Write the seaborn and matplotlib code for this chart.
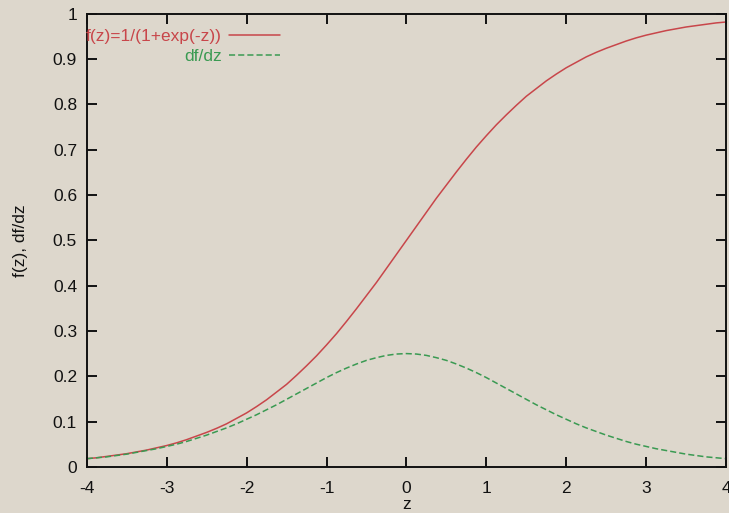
import numpy as np
import pandas as pd
import matplotlib
matplotlib.use("Agg")
import matplotlib.pyplot as plt
import seaborn as sns

# Sample points along z (step 0.125)
z_values = [-4.0, -3.875, -3.75, -3.625, -3.5, -3.375, -3.25, -3.125, -3.0,
            -2.875, -2.75, -2.625, -2.5, -2.375, -2.25, -2.125, -2.0,
            -1.875, -1.75, -1.625, -1.5, -1.375, -1.25, -1.125, -1.0,
            -0.875, -0.75, -0.625, -0.5, -0.375, -0.25, -0.125, 0.0,
            0.125, 0.25, 0.375, 0.5, 0.625, 0.75, 0.875, 1.0,
            1.125, 1.25, 1.375, 1.5, 1.625, 1.75, 1.875, 2.0,
            2.125, 2.25, 2.375, 2.5, 2.625, 2.75, 2.875, 3.0,
            3.125, 3.25, 3.375, 3.5, 3.625, 3.75, 3.875, 4.0]

# Logistic function values
f_values = [0.018, 0.020, 0.023, 0.026, 0.029, 0.033, 0.037, 0.042, 0.047,
            0.053, 0.060, 0.068, 0.076, 0.085, 0.095, 0.107, 0.119,
            0.133, 0.148, 0.165, 0.182, 0.202, 0.223, 0.245, 0.269,
            0.294, 0.321, 0.349, 0.378, 0.407, 0.438, 0.469, 0.500,
            0.531, 0.562, 0.593, 0.622, 0.651, 0.679, 0.706, 0.731,
            0.755, 0.777, 0.798, 0.818, 0.835, 0.852, 0.867, 0.881,
            0.893, 0.905, 0.915, 0.924, 0.932, 0.940, 0.947, 0.953,
            0.958, 0.963, 0.967, 0.971, 0.974, 0.977, 0.980, 0.982]

# Its derivative
df_values = [0.018, 0.020, 0.022, 0.025, 0.028, 0.032, 0.036, 0.040, 0.045,
             0.050, 0.056, 0.063, 0.070, 0.078, 0.086, 0.095, 0.105,
             0.115, 0.126, 0.137, 0.149, 0.161, 0.173, 0.185, 0.197,
             0.208, 0.218, 0.227, 0.235, 0.241, 0.246, 0.249, 0.250,
             0.249, 0.246, 0.241, 0.235, 0.227, 0.218, 0.208, 0.197,
             0.185, 0.173, 0.161, 0.149, 0.137, 0.126, 0.115, 0.105,
             0.095, 0.086, 0.078, 0.070, 0.063, 0.056, 0.050, 0.045,
             0.040, 0.036, 0.032, 0.028, 0.025, 0.022, 0.020, 0.018]

series_names = ["f(z)=1/(1+exp(-z))", "df/dz"]
x_ticks = [-4, -3, -2, -1, 0, 1, 2, 3, 4]
y_ticks = [0, 0.1, 0.2, 0.3, 0.4, 0.5, 0.6, 0.7, 0.8, 0.9, 1]
y_tick_labels = ["0", "0.1", "0.2", "0.3", "0.4", "0.5", "0.6", "0.7", "0.8", "0.9", "1"]

df = pd.DataFrame({
    "z": z_values * 2,
    "value": f_values + df_values,
    "series": [series_names[0]] * len(z_values) + [series_names[1]] * len(z_values),
})

sns.set_theme(style="ticks")
plt.rcParams["font.family"] = ["Liberation Sans", "DejaVu Sans"]

paper = "#ddd7cc"
red = "#c8464a"
green = "#3a9a52"
ink = "#111111"
fs = 12.5

fig = plt.figure(figsize=(7.29, 5.13), dpi=100, facecolor=paper)
ax = fig.add_axes([0.119, 0.090, 0.877, 0.883])
ax.set_facecolor(paper)

sns.lineplot(data=df, x="z", y="value", hue="series", style="series",
             palette={series_names[0]: red, series_names[1]: green},
             dashes={series_names[0]: "", series_names[1]: (4, 2)},
             linewidth=1.1, ax=ax, legend=True)

ax.set_xlim(-4, 4)
ax.set_ylim(0, 1)
ax.set_xticks(x_ticks)
ax.set_xticklabels([str(t) for t in x_ticks])
ax.set_yticks(y_ticks)
ax.set_yticklabels(y_tick_labels)
ax.tick_params(direction="in", length=7, width=1.4, top=True, right=True,
               labelsize=fs, colors=ink)
ax.tick_params(axis="x", pad=10)
ax.tick_params(axis="y", pad=7)
for s in ax.spines.values():
    s.set_linewidth(1.4)
    s.set_color(ink)

ax.set_xlabel("z", fontsize=fs, labelpad=1, color=ink)
ax.set_ylabel("f(z), df/dz", fontsize=fs, labelpad=18, color=ink)

leg = ax.legend(loc="upper right", bbox_to_anchor=(0.302, 0.967), frameon=False,
                markerfirst=False, handlelength=2.9, handletextpad=0.45,
                labelspacing=0.31, fontsize=fs, labelcolor="linecolor",
                borderaxespad=0, borderpad=0, title=None)
leg._legend_box.align = "right"

fig.savefig("out.png", dpi=100, facecolor=paper)
